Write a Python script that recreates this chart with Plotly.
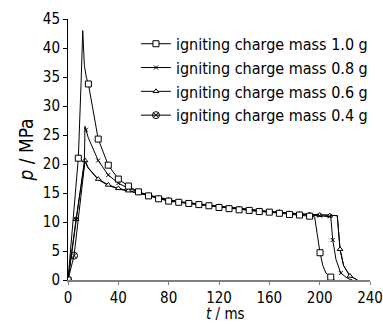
import plotly.graph_objects as go

# ---- data (time in ms, pressure in MPa) ----
series_names = ["igniting charge mass 1.0 g", "igniting charge mass 0.8 g",
                "igniting charge mass 0.6 g", "igniting charge mass 0.4 g"]

t_10 = [0, 8.2, 10.4, 11.7, 13, 14.5, 16.2, 24, 32, 40, 48, 56, 64, 72, 80, 88, 96, 104,
        112, 120, 128, 136, 144, 152, 160, 168, 176, 184, 192, 196, 198, 200.3, 202.5,
        205, 208.8, 212]
p_10 = [0, 21, 34, 43, 37, 35, 33.8, 24.3, 19.8, 17.4, 16.2, 15.2, 14.5, 14.0, 13.6, 13.4,
        13.2, 13.0, 12.8, 12.5, 12.3, 12.1, 12.0, 11.8, 11.7, 11.5, 11.3, 11.2, 11.0, 10.9,
        8.0, 4.7, 2.5, 1.2, 0.5, 0]
m_10 = [1, 1, 0, 0, 0, 0, 1, 1, 1, 1, 1, 1, 1, 1, 1, 1, 1, 1, 1, 1, 1, 1, 1, 1, 1, 1, 1, 1,
        1, 0, 0, 1, 0, 0, 1, 0]

t_08 = [0, 6.4, 13.0, 13.5, 14.3, 16, 24, 32, 40, 48, 56, 64, 72, 80, 88, 96, 104, 112,
        120, 128, 136, 144, 152, 160, 168, 176, 184, 192, 200, 208, 208.8, 210.4, 213,
        216.8, 222, 226]
p_08 = [0, 10.5, 20.5, 26.5, 25.9, 24.6, 20.6, 18.1, 16.7, 15.8, 15.2, 14.6, 14.1, 13.7,
        13.4, 13.2, 13.0, 12.8, 12.6, 12.4, 12.2, 12.0, 11.9, 11.7, 11.6, 11.4, 11.3, 11.2,
        11.1, 11.0, 10.9, 6.9, 3.5, 1.2, 0.3, 0]
m_08 = [1, 1, 0, 0, 1, 0, 1, 1, 1, 1, 1, 1, 1, 1, 1, 1, 1, 1, 1, 1, 1, 1, 1, 1, 1, 1, 1, 1,
        1, 1, 0, 1, 0, 1, 0, 0]

t_06 = [0, 6.4, 13.5, 16, 24, 32, 40, 48, 56, 64, 72, 80, 88, 96, 104, 112, 120, 128, 136,
        144, 152, 160, 168, 176, 184, 192, 200, 208, 214, 216.2, 219, 224, 230]
p_06 = [0, 10.5, 20.6, 19.4, 17.4, 16.4, 15.8, 15.4, 15.0, 14.6, 14.2, 13.8, 13.5, 13.3,
        13.1, 12.9, 12.7, 12.5, 12.3, 12.1, 12.0, 11.8, 11.7, 11.5, 11.4, 11.3, 11.2, 11.1,
        11.1, 5.3, 2.5, 0.7, 0]
m_06 = [1, 1, 1, 0, 1, 1, 1, 1, 1, 1, 1, 1, 1, 1, 1, 1, 1, 1, 1, 1, 1, 1, 1, 1, 1, 1, 1, 1,
        0, 1, 0, 1, 0]

t_04 = [0, 4.8, 13.5, 16, 24, 32, 40, 48, 56, 64, 72, 80, 88, 96, 104, 112, 120, 128, 136,
        144, 152, 160, 168, 176, 184, 192, 200, 208, 214, 216.2, 219, 224, 230]
p_04 = [0, 4.2, 20.5, 19.3, 17.3, 16.3, 15.7, 15.3, 14.9, 14.5, 14.1, 13.8, 13.5, 13.3,
        13.1, 12.9, 12.7, 12.5, 12.3, 12.1, 12.0, 11.8, 11.7, 11.5, 11.4, 11.3, 11.2, 11.1,
        11.1, 5.3, 2.5, 0.7, 0]
m_04 = [1, 1] + [0] * 31

x_ticks = [0, 40, 80, 120, 160, 200, 240]
y_ticks = [0, 5, 10, 15, 20, 25, 30, 35, 40, 45]

FONT = "DejaVu Sans Condensed, Liberation Sans, sans-serif"

styles = [
    dict(symbol="square", size=6, color="white", line=dict(color="black", width=1)),
    dict(symbol="x-thin", size=4, color="black", line=dict(color="black", width=1)),
    dict(symbol="triangle-up", size=5, color="white", line=dict(color="black", width=1)),
    dict(symbol="circle-x-open", size=7, color="black", line=dict(color="black", width=1)),
]

fig = go.Figure()
all_series = [(t_10, p_10, m_10), (t_08, p_08, m_08), (t_06, p_06, m_06), (t_04, p_04, m_04)]
for i in reversed(range(4)):
    t, p, m = all_series[i]
    fig.add_trace(go.Scatter(x=t, y=p, mode="lines", line=dict(color="black", width=1),
                             showlegend=False, hoverinfo="skip"))
    mx = [tv for tv, mv in zip(t, m) if mv]
    my = [pv for pv, mv in zip(p, m) if mv]
    fig.add_trace(go.Scatter(x=mx, y=my, mode="markers", marker=styles[i], showlegend=False))
for i in range(4):
    fig.add_trace(go.Scatter(x=[None], y=[None], mode="lines+markers", name=series_names[i],
                             line=dict(color="black", width=1), marker=styles[i]))

fig.update_layout(
    width=383, height=324,
    margin=dict(l=68, r=13, t=19, b=44, autoexpand=False),
    paper_bgcolor="white", plot_bgcolor="white",
    font=dict(family=FONT, size=16, color="black"),
    legend=dict(x=0.225, y=0.97, xanchor="left", yanchor="top",
                bgcolor="rgba(0,0,0,0)", font=dict(size=16), tracegroupgap=0,
                itemwidth=30),
    annotations=[dict(text="<i>t</i> / ms", xref="paper", yref="paper", x=0.52,
                      y=-0.093, xanchor="center", yanchor="top", showarrow=False,
                      borderpad=0, font=dict(size=15))],
)
fig.update_xaxes(range=[0, 240], tickvals=x_ticks, ticks="outside", ticklen=3,
                 tickcolor="#808080", showline=True, linecolor="#808080", linewidth=2,
                 showgrid=False, zeroline=False, ticklabeloverflow="allow",
                 tickfont=dict(size=15))
fig.update_yaxes(range=[0, 45], tickvals=y_ticks, ticks="outside", ticklen=4,
                 tickcolor="black", showline=True, linecolor="black", linewidth=1,
                 showgrid=False, zeroline=False, ticklabeloverflow="allow",
                 tickfont=dict(size=15),
                 title=dict(text="<i>p</i> / MPa", standoff=4))

fig.write_html("out.html")
